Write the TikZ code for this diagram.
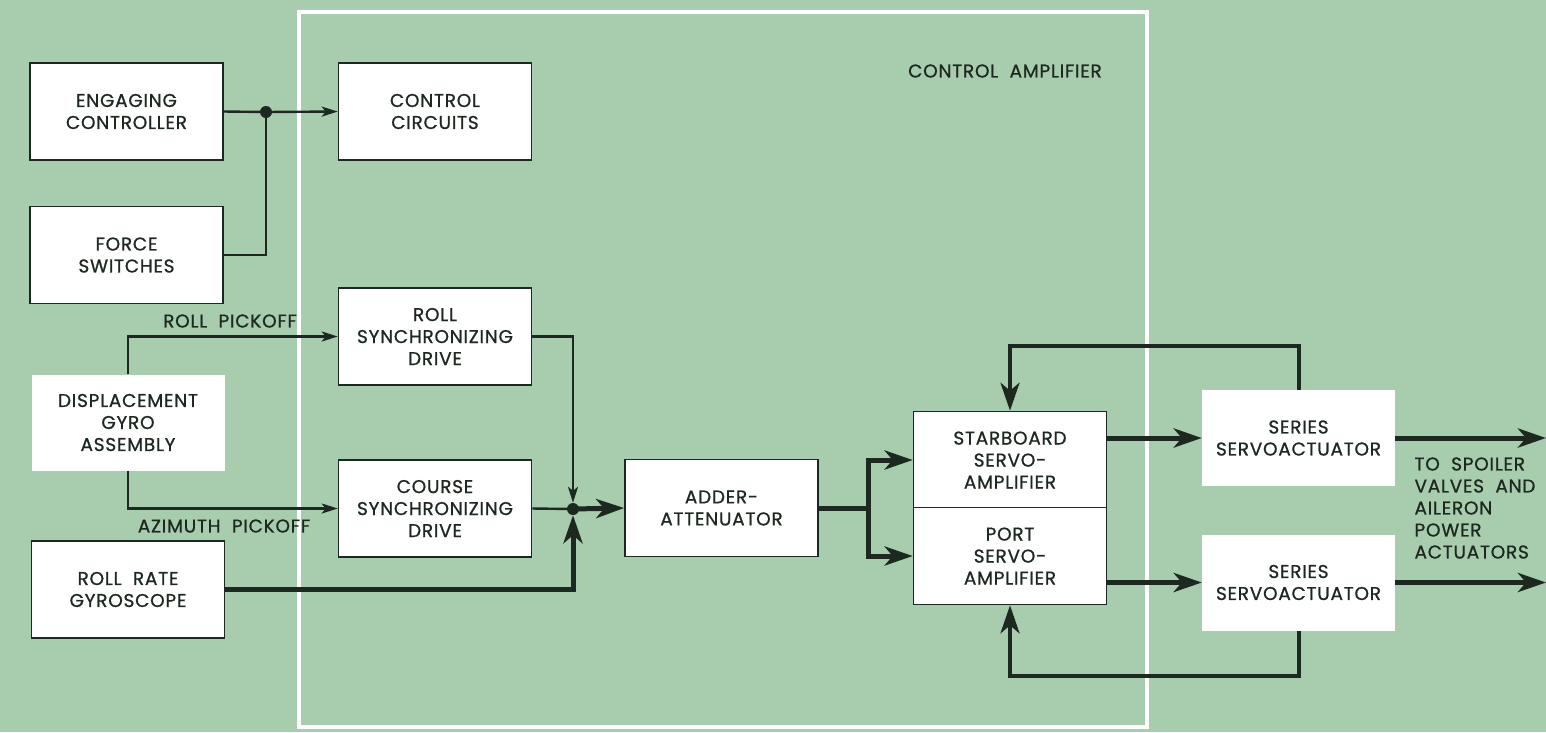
\documentclass[tikz,border=0pt]{standalone}
\usepackage{fontspec}
\setmainfont{Poppins}[LetterSpace=4,FakeBold=0.8]
\usetikzlibrary{calc}
\usetikzlibrary{arrows,arrows.meta}
\definecolor{bg}{RGB}{168,204,174}
\definecolor{ink}{RGB}{28,40,32}
\tikzstyle{blk}=[draw=ink,fill=white,line width=1.6pt,align=center,inner sep=0pt,minimum width=193pt,minimum height=97pt]
\tikzstyle{wblk}=[fill=white,align=center,inner sep=0pt,minimum width=193pt,minimum height=96pt]
\tikzstyle{sig}=[ink,line width=2.4pt,>={Stealth[length=16pt,width=10pt,inset=4pt]}]
\tikzstyle{pwr}=[ink,line width=5pt,>={Stealth[length=28pt,width=19pt,inset=8pt]}]
\tikzstyle{fb}=[ink,line width=4pt,>={Stealth[length=28pt,width=19pt,inset=8pt]}]
\tikzstyle{dot}=[circle,fill=ink,inner sep=0pt,minimum size=12pt]

\begin{document}
\begin{tikzpicture}[x=1pt,y=-1pt,every node/.style={text=ink,font=\fontsize{18.5}{22}\selectfont}]
	\useasboundingbox (0,0) rectangle (1546,732);
	\fill[bg] (0,0) rectangle (1546,732);
	\draw[white,line width=4.5pt] (299,12) rectangle (1147,727);
	% blocks
	\node[blk] (ec) at (126.5,111.5) {ENGAGING\\CONTROLLER};
	\node[blk] (fs) at (126.5,255) {FORCE\\SWITCHES};
	\node[wblk] (dga) at (128,422.5) {DISPLACEMENT\\GYRO\\ASSEMBLY};
	\node[blk] (rrg) at (128,589.5) {ROLL\ \ RATE\\GYROSCOPE};
	\node[blk] (cc) at (435,111.5) {CONTROL\\CIRCUITS};
	\node[blk] (rsd) at (435,336.5) {ROLL\\SYNCHRONIZING\\DRIVE};
	\node[blk] (csd) at (435,508.5) {COURSE\\SYNCHRONIZING\\DRIVE};
	\node[blk] (add) at (721.5,508) {ADDER-\\ATTENUATOR};
	\node[blk] (stb) at (1010,460) {STARBOARD\\SERVO-\\AMPLIFIER};
	\node[blk] (prt) at (1010,556) {PORT\\SERVO-\\AMPLIFIER};
	\node[wblk] (sa) at (1298.5,438) {SERIES\\SERVOACTUATOR};
	\node[wblk] (sb) at (1298.5,582.5) {SERIES\\SERVOACTUATOR};
	% labels
	\node (amp) at (1005,71) {CONTROL\ \ AMPLIFIER};
	\node (rpk) at (230,321) {ROLL\ \ PICKOFF};
	\node (apk) at (224,526) {AZIMUTH\ \ PICKOFF};
	\node[align=left,anchor=west] (dest) at (1411,508) {TO\ \ SPOILER\\VALVES\ \ AND\\AILERON\\POWER\\ACTUATORS};
	% junctions
	\node[dot] (ja) at (266,112) {};
	\node[dot] (jb) at (573,509) {};
	\coordinate (sp) at (868,508);
	\coordinate (ea) at (1546,438);
	\coordinate (eb) at (1546,582.5);
	% signal lines
	\draw[sig] (ec.east) -- (ja.center);
	\draw[sig,->] (ja.center) -- (cc.west);
	\draw[sig] (fs.east) -| (ja.center);
	\draw[sig,->] (dga.north) |- (rsd.west);
	\draw[sig,->] (dga.south) |- (csd.west);
	\draw[sig,->] (rsd.east) -| (jb.north);
	\draw[sig] (csd.east) -- (jb.center);
	% power lines
	\draw[pwr,->] (rrg.east) -| (jb.south);
	\draw[pwr,->] (jb.center) -- (add.west);
	\draw[pwr] (add.east) -- (sp);
	\draw[pwr,<->] (stb.west) -| (sp) |- (prt.west);
	\draw[pwr,->] (stb.east |- sa) -- (sa.west);
	\draw[pwr,->] (prt.east |- sb) -- (sb.west);
	\draw[pwr,->] (sa.east) -- (ea);
	\draw[pwr,->] (sb.east) -- (eb);
	% feedback
	\draw[fb,->] (sa.north) -- ++(0,-44) -| (stb.north);
	\draw[fb,->] (sb.south) -- ++(0,45) -| (prt.south);
\end{tikzpicture}
\end{document}
